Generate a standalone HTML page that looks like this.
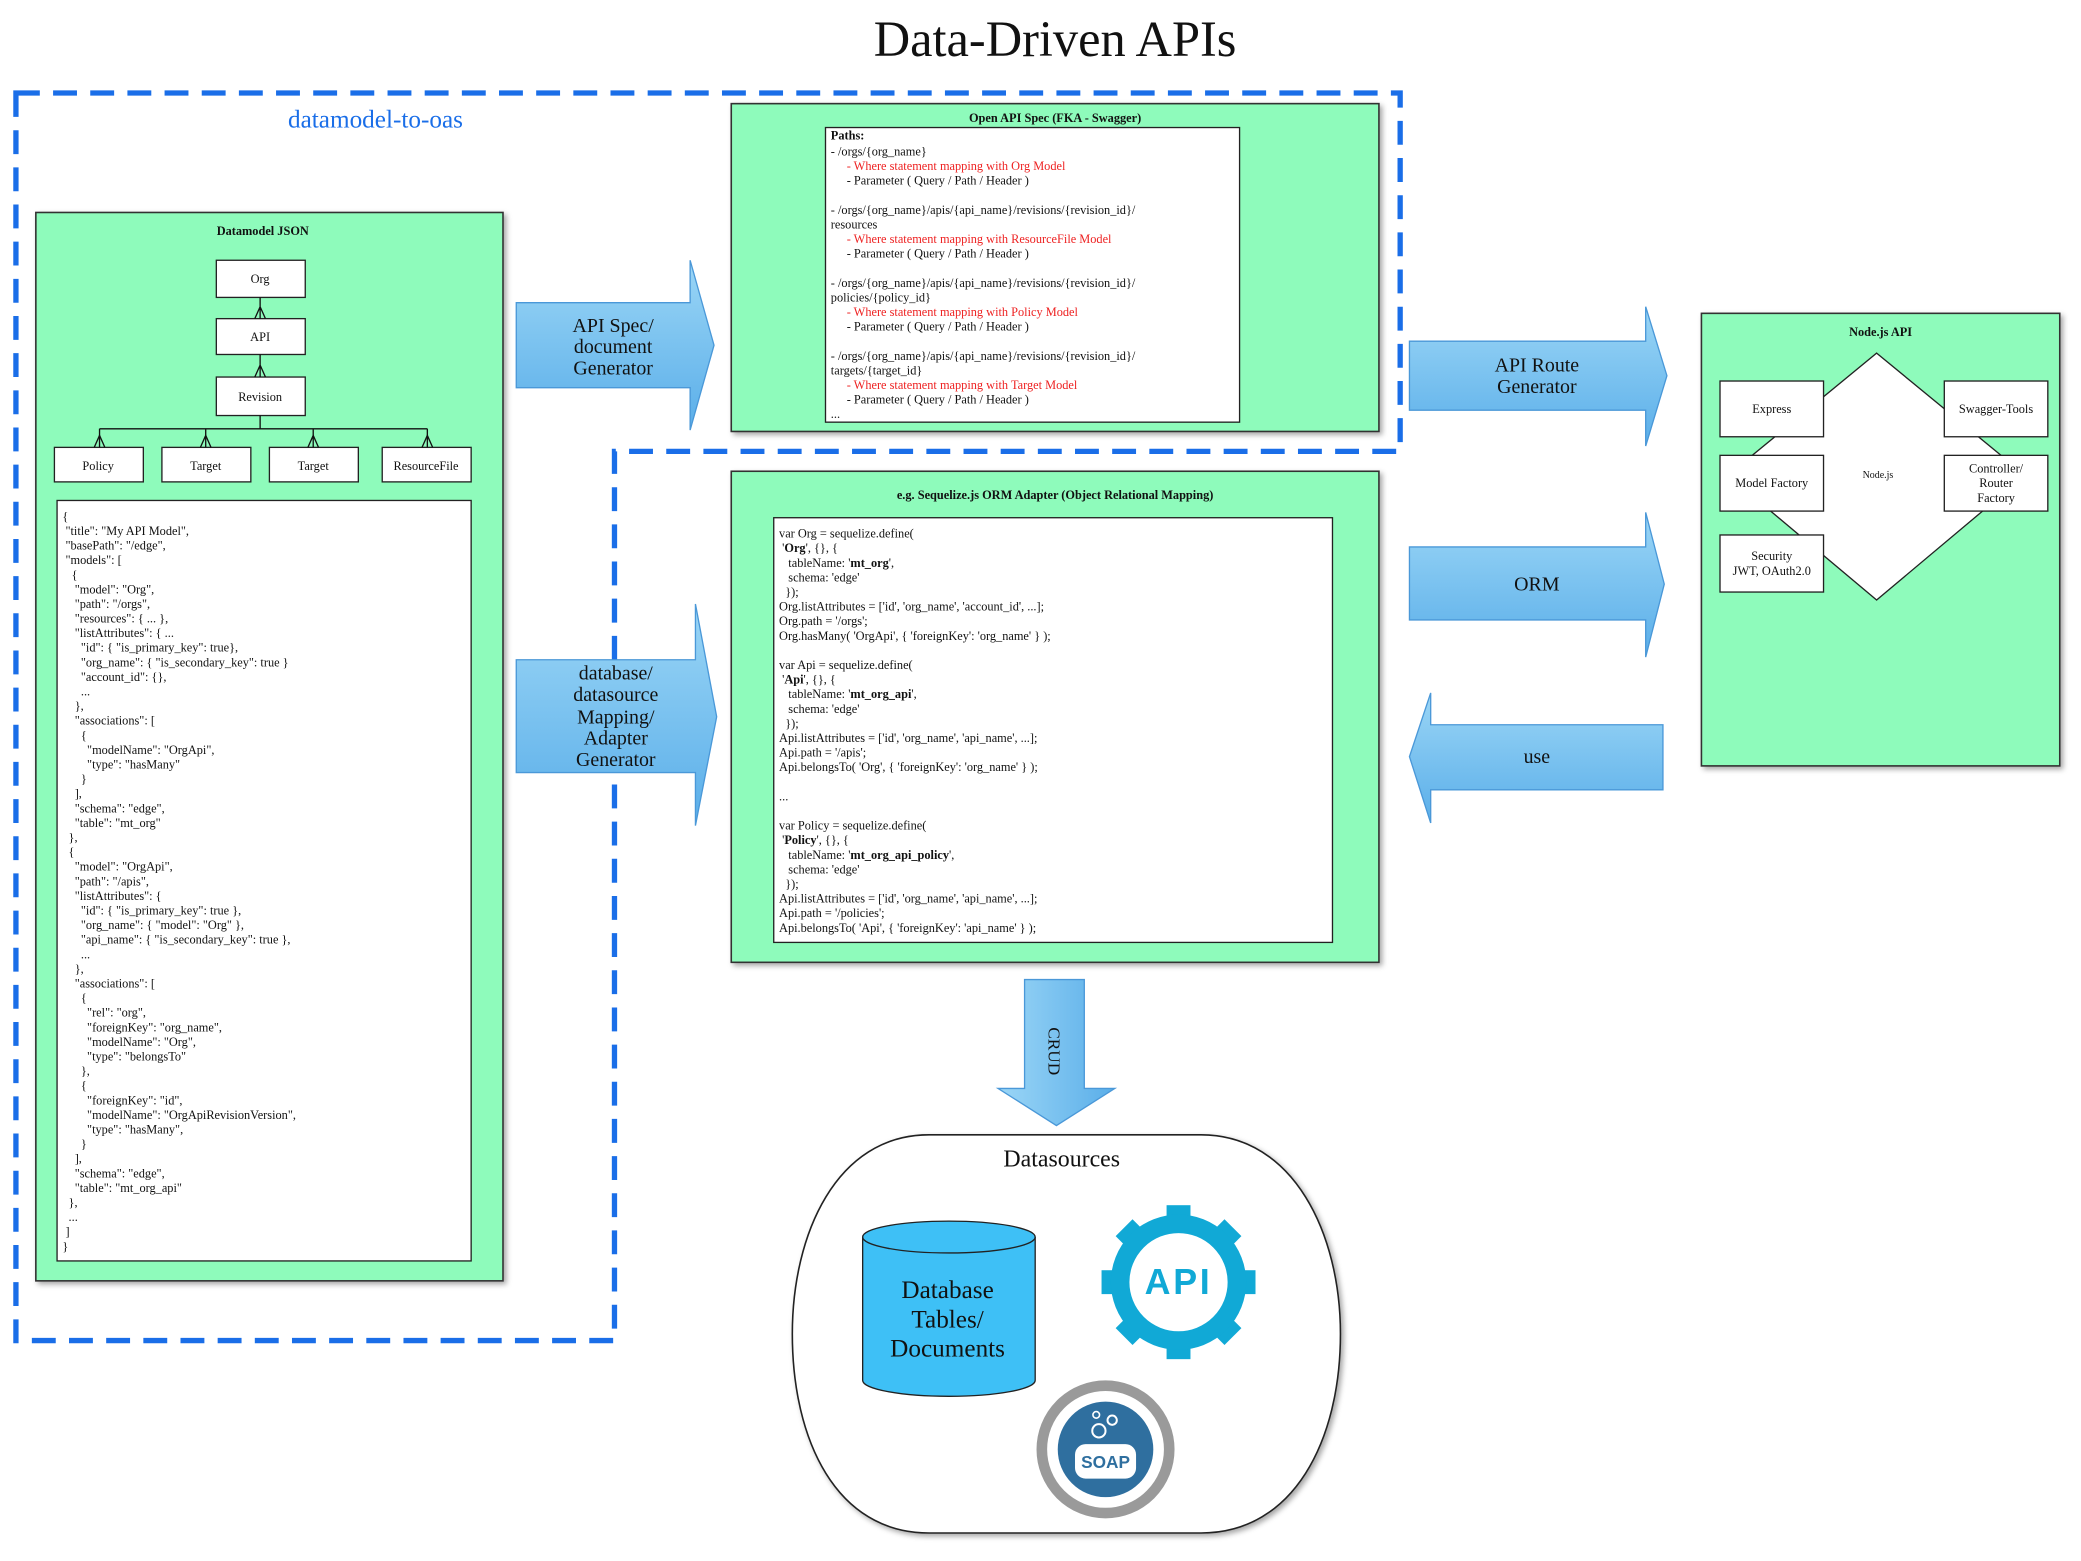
<!DOCTYPE html>
<html><head><meta charset="utf-8"><style>
html,body{margin:0;padding:0;background:#fff;}
svg{display:block;}
text{font-family:"Liberation Serif",serif;fill:#111;}
.t{font-size:9.3px;}
.r{fill:#ee2222;}
.b{font-weight:bold;}
</style></head><body>
<svg width="2081" height="1561" viewBox="0 0 1568 1176" xmlns="http://www.w3.org/2000/svg">
<defs>
<linearGradient id="ag" x1="0" y1="0" x2="0" y2="1"><stop offset="0" stop-color="#9bd6f6"/><stop offset="1" stop-color="#5aaee9"/></linearGradient>
<linearGradient id="agv" x1="0" y1="0" x2="1" y2="0"><stop offset="0" stop-color="#9bd6f6"/><stop offset="1" stop-color="#5aaee9"/></linearGradient>
<filter id="sh" x="-5%" y="-5%" width="110%" height="110%"><feDropShadow dx="2" dy="2" stdDeviation="2" flood-color="#000" flood-opacity="0.35"/></filter>
</defs>
<rect width="1568" height="1176" fill="#fff"/>
<text x="795" y="42" text-anchor="middle" style="font-size:38px">Data-Driven APIs</text>

<path d="M12,70 H1055 V340 H463 V1010 H12 Z" fill="none" stroke="#1a6ee8" stroke-width="4" stroke-dasharray="18 10"/>
<text x="217" y="96" style="font-size:19px;fill:#1a6ee8">datamodel-to-oas</text>

<rect x="27" y="160" width="352" height="805" fill="#8efbbb" stroke="#333" stroke-width="1.2" filter="url(#sh)"/>
<text x="198" y="177" text-anchor="middle" class="t b">Datamodel JSON</text>
<g fill="#fff" stroke="#222" stroke-width="1">
<rect x="163" y="196" width="67" height="28"/>
<rect x="163" y="240" width="67" height="27"/>
<rect x="163" y="284" width="67" height="29"/>
<rect x="41" y="337" width="67" height="26"/>
<rect x="122" y="337" width="67" height="26"/>
<rect x="203" y="337" width="67" height="26"/>
<rect x="288" y="337" width="67" height="26"/>
</g>
<g stroke="#111" stroke-width="1" fill="none">
<path d="M196,224 V240 M192,240 L196,231 L200,240 M196,231 V240"/>
<path d="M196,267 V284 M192,284 L196,275 L200,284"/>
<path d="M196,313 V323 M75,323 H322 M75,323 V337 M155,323 V337 M236,323 V337 M322,323 V337"/>
<path d="M71,337 L75,328 L79,337 M151,337 L155,328 L159,337 M232,337 L236,328 L240,337 M318,337 L322,328 L326,337"/>
</g>
<g class="t" text-anchor="middle">
<text x="196" y="213">Org</text><text x="196" y="257">API</text><text x="196" y="302">Revision</text>
<text x="74" y="354">Policy</text><text x="155" y="354">Target</text><text x="236" y="354">Target</text><text x="321" y="354">ResourceFile</text>
</g>
<rect x="43" y="377" width="312" height="573" fill="#fff" stroke="#222" stroke-width="1"/>
<text class="t" x="47" y="392" xml:space="preserve"><tspan x="47" dy="0">{</tspan><tspan x="47" dy="11"> "title": "My API Model",</tspan><tspan x="47" dy="11"> "basePath": "/edge",</tspan><tspan x="47" dy="11"> "models": [</tspan><tspan x="47" dy="11">   {</tspan><tspan x="47" dy="11">    "model": "Org",</tspan><tspan x="47" dy="11">    "path": "/orgs",</tspan><tspan x="47" dy="11">    "resources": { ... },</tspan><tspan x="47" dy="11">    "listAttributes": { ...</tspan><tspan x="47" dy="11">      "id": { "is_primary_key": true},</tspan><tspan x="47" dy="11">      "org_name": { "is_secondary_key": true }</tspan><tspan x="47" dy="11">      "account_id": {},</tspan><tspan x="47" dy="11">      ...</tspan><tspan x="47" dy="11">    },</tspan><tspan x="47" dy="11">    "associations": [</tspan><tspan x="47" dy="11">      {</tspan><tspan x="47" dy="11">        "modelName": "OrgApi",</tspan><tspan x="47" dy="11">        "type": "hasMany"</tspan><tspan x="47" dy="11">      }</tspan><tspan x="47" dy="11">    ],</tspan><tspan x="47" dy="11">    "schema": "edge",</tspan><tspan x="47" dy="11">    "table": "mt_org"</tspan><tspan x="47" dy="11">  },</tspan><tspan x="47" dy="11">  {</tspan><tspan x="47" dy="11">    "model": "OrgApi",</tspan><tspan x="47" dy="11">    "path": "/apis",</tspan><tspan x="47" dy="11">    "listAttributes": {</tspan><tspan x="47" dy="11">      "id": { "is_primary_key": true },</tspan><tspan x="47" dy="11">      "org_name": { "model": "Org" },</tspan><tspan x="47" dy="11">      "api_name": { "is_secondary_key": true },</tspan><tspan x="47" dy="11">      ...</tspan><tspan x="47" dy="11">    },</tspan><tspan x="47" dy="11">    "associations": [</tspan><tspan x="47" dy="11">      {</tspan><tspan x="47" dy="11">        "rel": "org",</tspan><tspan x="47" dy="11">        "foreignKey": "org_name",</tspan><tspan x="47" dy="11">        "modelName": "Org",</tspan><tspan x="47" dy="11">        "type": "belongsTo"</tspan><tspan x="47" dy="11">      },</tspan><tspan x="47" dy="11">      {</tspan><tspan x="47" dy="11">        "foreignKey": "id",</tspan><tspan x="47" dy="11">        "modelName": "OrgApiRevisionVersion",</tspan><tspan x="47" dy="11">        "type": "hasMany",</tspan><tspan x="47" dy="11">      }</tspan><tspan x="47" dy="11">    ],</tspan><tspan x="47" dy="11">    "schema": "edge",</tspan><tspan x="47" dy="11">    "table": "mt_org_api"</tspan><tspan x="47" dy="11">  },</tspan><tspan x="47" dy="11">  ...</tspan><tspan x="47" dy="11"> ]</tspan><tspan x="47" dy="11">}</tspan></text>

<path d="M389,228 H520 V196 L538,260 L520,324 V292 H389 Z" fill="url(#ag)" stroke="#4a98d8" stroke-width="1"/>
<g style="font-size:15px" text-anchor="middle"><text x="462" y="250">API Spec/</text><text x="462" y="266">document</text><text x="462" y="282">Generator</text></g>
<path d="M389,497 H524 V455 L540,540 L524,622 V582 H389 Z" fill="url(#ag)" stroke="#4a98d8" stroke-width="1"/>
<g style="font-size:15px" text-anchor="middle"><text x="464" y="512">database/</text><text x="464" y="528">datasource</text><text x="464" y="545">Mapping/</text><text x="464" y="561">Adapter</text><text x="464" y="577">Generator</text></g>
<path d="M1062,257 H1240 V231 L1256,283 L1240,336 V309 H1062 Z" fill="url(#ag)" stroke="#4a98d8" stroke-width="1"/>
<g style="font-size:15px" text-anchor="middle"><text x="1158" y="280">API Route</text><text x="1158" y="296">Generator</text></g>
<path d="M1062,412 H1240 V386 L1254,440 L1240,495 V467 H1062 Z" fill="url(#ag)" stroke="#4a98d8" stroke-width="1"/>
<text x="1158" y="445" text-anchor="middle" style="font-size:15px">ORM</text>
<path d="M1253,546 H1078 V522 L1062,570 L1078,620 V595 H1253 Z" fill="url(#ag)" stroke="#4a98d8" stroke-width="1"/>
<text x="1158" y="575" text-anchor="middle" style="font-size:15px">use</text>
<path d="M772,738 H817 V820 H840 L796,848 L752,820 H772 Z" fill="url(#agv)" stroke="#4a98d8" stroke-width="1"/>
<text x="790" y="792" text-anchor="middle" transform="rotate(90 790 792)" style="font-size:13px">CRUD</text>

<rect x="551" y="78" width="488" height="247" fill="#8efbbb" stroke="#333" stroke-width="1.2" filter="url(#sh)"/>
<text x="795" y="92" text-anchor="middle" class="t b">Open API Spec (FKA -  Swagger)</text>
<rect x="622" y="96" width="312" height="222" fill="#fff" stroke="#222" stroke-width="1"/>
<g class="t" xml:space="preserve">
<text x="626" y="105" class="b">Paths:</text>
<text x="626" y="117">- /orgs/{org_name}</text>
<text x="638" y="128" class="r">- Where statement mapping with Org Model</text>
<text x="638" y="139">- Parameter ( Query / Path / Header )</text>
<text x="626" y="161">- /orgs/{org_name}/apis/{api_name}/revisions/{revision_id}/</text>
<text x="626" y="172">resources</text>
<text x="638" y="183" class="r">- Where statement mapping with ResourceFile Model</text>
<text x="638" y="194">- Parameter ( Query / Path / Header )</text>
<text x="626" y="216">- /orgs/{org_name}/apis/{api_name}/revisions/{revision_id}/</text>
<text x="626" y="227">policies/{policy_id}</text>
<text x="638" y="238" class="r">- Where statement mapping with Policy Model</text>
<text x="638" y="249">- Parameter ( Query / Path / Header )</text>
<text x="626" y="271">- /orgs/{org_name}/apis/{api_name}/revisions/{revision_id}/</text>
<text x="626" y="282">targets/{target_id}</text>
<text x="638" y="293" class="r">- Where statement mapping with Target Model</text>
<text x="638" y="304">- Parameter ( Query / Path / Header )</text>
<text x="626" y="315">...</text>
</g>

<rect x="551" y="355" width="488" height="370" fill="#8efbbb" stroke="#333" stroke-width="1.2" filter="url(#sh)"/>
<text x="795" y="376" text-anchor="middle" class="t b">e.g. Sequelize.js ORM Adapter (Object Relational Mapping)</text>
<rect x="583" y="390" width="421" height="320" fill="#fff" stroke="#222" stroke-width="1"/>
<text class="t" x="587" y="405" xml:space="preserve"><tspan x="587" dy="0">var Org = sequelize.define(</tspan><tspan x="587" dy="11"> '<tspan class="b">Org</tspan>', {}, {</tspan><tspan x="587" dy="11">   tableName: '<tspan class="b">mt_org</tspan>',</tspan><tspan x="587" dy="11">   schema: 'edge'</tspan><tspan x="587" dy="11">  });</tspan><tspan x="587" dy="11">Org.listAttributes = ['id', 'org_name', 'account_id', ...];</tspan><tspan x="587" dy="11">Org.path = '/orgs';</tspan><tspan x="587" dy="11">Org.hasMany( 'OrgApi', { 'foreignKey': 'org_name' } );</tspan><tspan x="587" dy="22">var Api = sequelize.define(</tspan><tspan x="587" dy="11"> '<tspan class="b">Api</tspan>', {}, {</tspan><tspan x="587" dy="11">   tableName: '<tspan class="b">mt_org_api</tspan>',</tspan><tspan x="587" dy="11">   schema: 'edge'</tspan><tspan x="587" dy="11">  });</tspan><tspan x="587" dy="11">Api.listAttributes = ['id', 'org_name', 'api_name', ...];</tspan><tspan x="587" dy="11">Api.path = '/apis';</tspan><tspan x="587" dy="11">Api.belongsTo( 'Org', { 'foreignKey': 'org_name' } );</tspan><tspan x="587" dy="22">...</tspan><tspan x="587" dy="22">var Policy = sequelize.define(</tspan><tspan x="587" dy="11"> '<tspan class="b">Policy</tspan>', {}, {</tspan><tspan x="587" dy="11">   tableName: '<tspan class="b">mt_org_api_policy</tspan>',</tspan><tspan x="587" dy="11">   schema: 'edge'</tspan><tspan x="587" dy="11">  });</tspan><tspan x="587" dy="11">Api.listAttributes = ['id', 'org_name', 'api_name', ...];</tspan><tspan x="587" dy="11">Api.path = '/policies';</tspan><tspan x="587" dy="11">Api.belongsTo( 'Api', { 'foreignKey': 'api_name' } );</tspan></text>

<rect x="1282" y="236" width="270" height="341" fill="#8efbbb" stroke="#333" stroke-width="1.2" filter="url(#sh)"/>
<text x="1417" y="253" text-anchor="middle" class="t b">Node.js API</text>
<path d="M1414,266 L1526,358 L1414,452 L1302,358 Z" fill="#fff" stroke="#222" stroke-width="1"/>
<text x="1415" y="360" text-anchor="middle" style="font-size:7.5px">Node.js</text>
<g fill="#fff" stroke="#222" stroke-width="1">
<rect x="1296" y="287" width="78" height="42"/>
<rect x="1465" y="287" width="78" height="42"/>
<rect x="1296" y="343" width="78" height="42"/>
<rect x="1465" y="343" width="78" height="42"/>
<rect x="1296" y="403" width="78" height="43"/>
</g>
<g class="t" text-anchor="middle">
<text x="1335" y="311">Express</text>
<text x="1504" y="311">Swagger-Tools</text>
<text x="1335" y="367">Model Factory</text>
<text x="1504" y="356">Controller/</text><text x="1504" y="367">Router</text><text x="1504" y="378">Factory</text>
<text x="1335" y="422">Security</text><text x="1335" y="433">JWT, OAuth2.0</text>
</g>

<path d="M700,855 H905 C975,855 1010,930 1010,1005 C1010,1085 975,1155 905,1155 H700 C630,1155 597,1085 597,1005 C597,930 630,855 700,855 Z" fill="#fff" stroke="#222" stroke-width="1.2" filter="url(#sh)"/>
<text x="800" y="879" text-anchor="middle" style="font-size:18px">Datasources</text>
<path d="M650,932 V1040 A65,12 0 0 0 780,1040 V932" fill="#3ec0f6" stroke="#222" stroke-width="1"/>
<ellipse cx="715" cy="932" rx="65" ry="12" fill="#3ec0f6" stroke="#222" stroke-width="1"/>
<g style="font-size:19px" text-anchor="middle"><text x="714" y="978">Database</text><text x="714" y="1000">Tables/</text><text x="714" y="1022">Documents</text></g>
<g transform="translate(888,966)">
<g fill="#11a9d6">
<rect x="-9" y="-58" width="18" height="20" transform="rotate(0)"/>
<rect x="-9" y="-58" width="18" height="20" transform="rotate(45)"/>
<rect x="-9" y="-58" width="18" height="20" transform="rotate(90)"/>
<rect x="-9" y="-58" width="18" height="20" transform="rotate(135)"/>
<rect x="-9" y="-58" width="18" height="20" transform="rotate(180)"/>
<rect x="-9" y="-58" width="18" height="20" transform="rotate(225)"/>
<rect x="-9" y="-58" width="18" height="20" transform="rotate(270)"/>
<rect x="-9" y="-58" width="18" height="20" transform="rotate(315)"/>
</g>
<circle r="44" fill="none" stroke="#11a9d6" stroke-width="14"/>
<text x="0" y="9" text-anchor="middle" style="font-family:'Liberation Sans',sans-serif;font-size:27px;font-weight:bold;fill:#11a9d6;letter-spacing:2px">API</text>
</g>
<circle cx="833" cy="1092" r="48" fill="#fff" stroke="#9a9a9a" stroke-width="8"/>
<circle cx="833" cy="1092" r="36" fill="#2f6f9f"/>
<rect x="810" y="1088" width="46" height="26" rx="8" fill="#fff"/>
<text x="833" y="1106" text-anchor="middle" style="font-family:'Liberation Sans',sans-serif;font-size:13px;font-weight:bold;fill:#2f6f9f">SOAP</text>
<circle cx="828" cy="1078" r="5" fill="none" stroke="#fff" stroke-width="1.5"/>
<circle cx="838" cy="1070" r="3.5" fill="none" stroke="#fff" stroke-width="1.5"/>
<circle cx="826" cy="1066" r="2.5" fill="none" stroke="#fff" stroke-width="1.2"/>
</svg>
</body></html>
